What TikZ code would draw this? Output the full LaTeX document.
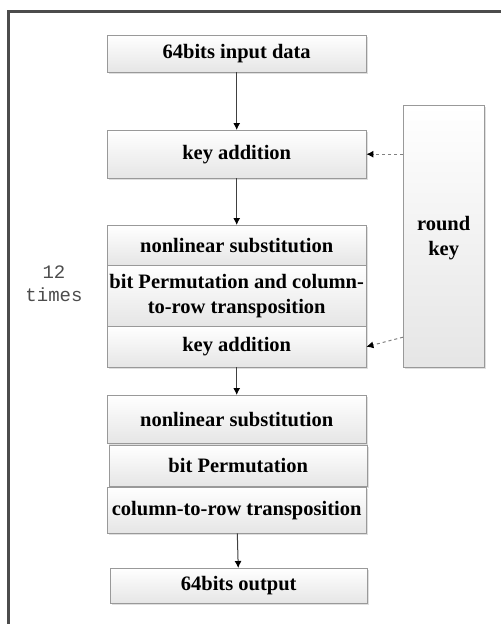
\documentclass[tikz,border=0pt]{standalone}
\usepackage{fontspec}
\setmainfont{Liberation Serif}
\setmonofont{Liberation Mono}
\usetikzlibrary{shadows,arrows.meta}

\begin{document}
\begin{tikzpicture}[x=1pt,y=-1pt,
  stage/.style={draw=gray!80,top color=white,bottom color=gray!20,
    minimum width=259pt,inner sep=0pt,anchor=north west,align=center,
    font=\fontsize{20.5}{25}\selectfont\bfseries,
    drop shadow={opacity=0.25,shadow xshift=1.5pt,shadow yshift=-1.5pt}},
  flow/.style={-{Latex[length=7pt,width=7pt,black]},draw=black!75,line width=1pt},
  keyflow/.style={flow,draw=gray,dashed}]
\useasboundingbox (0,0) rectangle (501,624);
\draw[line width=3pt,gray!60!black] (8,624) -- (8,11) -- (501,11);

\node[stage,minimum height=37pt] (input) at (107,35) {64bits input data};
\node[stage,minimum height=48pt] (add1) at (107,130) {key addition};
\node[stage,minimum height=40pt] (sub1) at (107,225) {nonlinear substitution};
\node[stage,minimum height=61pt] (perm1) at (107,265) {bit Permutation and column-\\to-row transposition};
\node[stage,minimum height=41pt] (add2) at (107,326) {key addition};
\node[stage,minimum height=48pt] (sub2) at (107,395) {nonlinear substitution};
\node[stage,minimum height=41pt,minimum width=258pt] (perm2) at (109,445) {bit Permutation};
\node[stage,minimum height=46pt] (trans) at (107,487) {column-to-row transposition};
\node[stage,minimum height=35pt,minimum width=257pt] (output) at (110,568) {64bits output};
\node[stage,minimum width=81pt,minimum height=262pt] (roundkey) at (403,105) {\mbox{}\\[-6pt]round\\key};
\node[font=\fontsize{19}{23}\selectfont\ttfamily,text=black!70,align=center] (times) at (54,284) {12\\times};

\draw[flow] (input) -- (add1);
\draw[flow] (add1) -- (sub1);
\draw[flow] (add2) -- (sub2);
\draw[flow] (trans) -- (output);
\draw[keyflow] (roundkey.west |- add1.east) -- (add1.east);
\draw[keyflow] ([yshift=9.5pt]roundkey.west |- add2.east) -- (add2.east);
\end{tikzpicture}
\end{document}
